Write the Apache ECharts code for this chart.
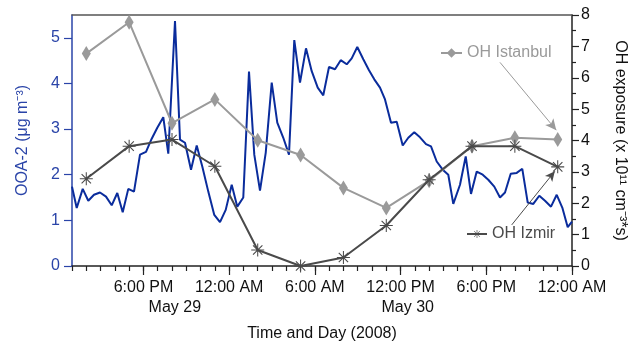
<!DOCTYPE html>
<html><head><meta charset="utf-8">
<script src="https://cdn.jsdelivr.net/npm/echarts@6/dist/echarts.min.js"></script>
<style>html,body{margin:0;padding:0;background:#fff}#c{width:628px;height:342px}</style>
</head><body><div id="c"></div>
<script>
// OOA-2 time series (hours since May 29 00:00, µg m-3)
const ooaHours = [13.0,13.33,13.75,14.14,14.54,14.96,15.38,15.78,16.17,16.55,16.94,17.34,17.76,18.18,18.58,18.97,19.39,19.74,20.21,20.56,20.91,21.33,21.73,22.12,22.54,22.96,23.36,23.76,24.18,24.57,24.99,25.39,25.76,26.16,26.56,26.98,27.37,27.79,28.19,28.56,28.96,29.38,29.78,30.20,30.59,30.99,31.41,31.81,32.23,32.58,32.97,33.39,33.79,34.16,34.56,34.91,35.33,35.73,36.15,36.54,36.96,37.36,37.78,38.13,38.53,38.95,39.34,39.69,40.16,40.56,40.93,41.33,41.75,42.14,42.56,42.96,43.31,43.71,44.13,44.52,44.90,45.29,45.71,46.11,46.53,46.93,47.32,47.70,48.0];
const ooaValues = [1.74,1.27,1.69,1.43,1.56,1.61,1.52,1.33,1.60,1.18,1.69,1.63,2.44,2.50,2.79,3.03,3.26,2.46,5.37,2.77,2.70,2.11,2.64,2.18,1.63,1.12,0.96,1.23,1.78,1.30,1.50,4.26,2.44,1.65,2.48,4.02,3.14,2.81,2.44,4.95,4.02,4.77,4.27,3.91,3.74,4.36,4.31,4.51,4.42,4.55,4.80,4.53,4.29,4.09,3.91,3.65,3.14,3.16,2.64,2.81,2.93,2.82,2.67,2.62,2.29,2.11,2.00,1.36,1.78,2.40,1.58,2.07,2.00,1.89,1.74,1.50,1.61,2.02,2.04,2.13,1.39,1.36,1.54,1.43,1.30,1.56,1.28,0.85,0.97];
// OH exposure (x 10^11 cm-3 s)
const ohHours = [14,17,20,23,26,29,32,35,38,41,44,47];
const istanbulValues = [6.77,7.77,4.55,5.31,4.01,3.54,2.49,1.85,2.72,3.82,4.09,4.03];
const izmirValues = [2.78,3.82,4.03,3.18,0.51,0.0,0.27,1.29,2.75,3.82,3.82,3.16];
// axis ticks & labels
const majorTickHours = [18,24,30,36,42,48];
const majorTickLabels = ['6:00 PM','12:00 AM','6:00 AM','12:00 PM','6:00 PM','12:00 AM'];
const dateLabelHours = [20.2,36.5];
const dateLabels = ['May 29','May 30'];
const leftTicks = [0,1,2,3,4,5];
// annotation arrows [from, to] in data coords
const istanbulArrow = [[42.96,6.49],[46.9,4.33]];
const izmirArrow = [[43.78,1.31],[46.8,3.02]];

const FONT = 'Liberation Sans, Arial, sans-serif';
const BLUE = '#0a2c9c';
const AXBLUE = '#2a44a8';
const GRAY = '#9a9a9a';
const DARK = '#4a4a4a';
const STAR = 'path://M0 46H100V54H0Z M46 0H54V100H46Z M11 17L17 11L89 83L83 89Z M83 11L89 17L17 89L11 83Z';

const chart = echarts.init(document.getElementById('c'), null, {renderer:'canvas'});
const xBase = {type:'value', min:13, max:48, gridIndex:0};
chart.setOption({
  animation:false,
  textStyle:{fontFamily:FONT},
  grid:{left:72, right:56, top:15, bottom:76, containLabel:false, outerBoundsMode:'none'},
  legend:[
    {data:[{name:'OH Istanbul', textStyle:{color:GRAY}}], left:440, top:45, padding:0, itemWidth:21, itemHeight:12,
     textStyle:{fontSize:16, fontFamily:FONT, color:GRAY}, selectedMode:false},
    {data:[{name:'OH Izmir', textStyle:{color:DARK}}], left:466, top:226, padding:0, itemWidth:20, itemHeight:10,
     textStyle:{fontSize:16, fontFamily:FONT, color:DARK}, selectedMode:false}
  ],
  xAxis:[
    Object.assign({}, xBase, {
      interval:1, position:'bottom',
      axisLine:{lineStyle:{color:'#222', width:1.5}},
      axisTick:{length:5, lineStyle:{color:'#222', width:1.2}},
      axisLabel:{customValues:majorTickHours, margin:14, fontSize:16, color:'#111', fontFamily:FONT,
        formatter:v=>majorTickLabels[majorTickHours.indexOf(Math.round(v))] || ''},
      splitLine:{show:false},
      name:'Time and Day (2008)', nameLocation:'middle', nameGap:60,
      nameTextStyle:{fontSize:16, color:'#111', fontFamily:FONT}
    }),
    Object.assign({}, xBase, {
      position:'bottom',
      axisLine:{show:false},
      axisTick:{customValues:majorTickHours, length:9, lineStyle:{color:'#222', width:1.2}},
      axisLabel:{customValues:dateLabelHours, margin:34, fontSize:16, color:'#111', fontFamily:FONT,
        formatter:v=>{let i=0,b=1e9;dateLabelHours.forEach((h,k)=>{if(Math.abs(h-v)<b){b=Math.abs(h-v);i=k;}});return dateLabels[i];}},
      splitLine:{show:false}
    }),
    Object.assign({}, xBase, {
      position:'top',
      axisLine:{lineStyle:{color:'#555', width:1.5}},
      axisTick:{show:false}, axisLabel:{show:false}, splitLine:{show:false}
    })
  ],
  yAxis:[
    {type:'value', min:0, max:5.5, interval:1, position:'left',
     axisLine:{show:true, lineStyle:{color:AXBLUE, width:1.5}},
     axisTick:{show:true, customValues:leftTicks, length:8, lineStyle:{color:AXBLUE, width:1.2}},
     axisLabel:{customValues:leftTicks, margin:12, fontSize:16, color:AXBLUE, fontFamily:FONT},
     splitLine:{show:false},
     name:'OOA-2 (μg m⁻³)', nameLocation:'middle', nameRotate:90, nameGap:41,
     nameTextStyle:{fontSize:16, color:AXBLUE, fontFamily:FONT}},
    {type:'value', min:0, max:8, interval:1, position:'right',
     axisLine:{show:true, lineStyle:{color:'#222', width:1.5}},
     axisTick:{show:true, length:7, lineStyle:{color:'#222', width:1.2}},
     minorTick:{show:true, splitNumber:2, length:4, lineStyle:{color:'#222', width:1.2}},
     axisLabel:{margin:9, fontSize:16, color:'#111', fontFamily:FONT},
     splitLine:{show:false},
     name:'OH exposure (x 10¹¹ cm⁻³*s)', nameLocation:'middle', nameRotate:-90, nameGap:40,
     nameTextStyle:{fontSize:16, color:'#111', fontFamily:FONT}}
  ],
  series:[
    {name:'OOA-2', type:'line', xAxisIndex:0, yAxisIndex:0, showSymbol:false, symbol:'none',
     lineStyle:{color:BLUE, width:2}, itemStyle:{color:BLUE},
     data:ooaHours.map((h,i)=>[h, ooaValues[i]]), z:2},
    {name:'OH Istanbul', type:'line', xAxisIndex:0, yAxisIndex:1, symbol:'diamond', symbolSize:[9,15],
     lineStyle:{color:GRAY, width:2}, itemStyle:{color:GRAY}, z:3,
     data:ohHours.map((h,i)=>[h, istanbulValues[i]]),
     markLine:{silent:true, symbol:['none','arrow'], symbolSize:[8,11], label:{show:false},
       lineStyle:{color:GRAY, width:1, type:'solid'},
       data:[[{coord:istanbulArrow[0]},{coord:istanbulArrow[1]}]]}},
    {name:'OH Izmir', type:'line', xAxisIndex:0, yAxisIndex:1, symbol:STAR, symbolSize:13,
     lineStyle:{color:DARK, width:2}, itemStyle:{color:DARK}, z:4,
     data:ohHours.map((h,i)=>[h, izmirValues[i]]),
     markLine:{silent:true, symbol:['none','arrow'], symbolSize:[7,10], label:{show:false},
       lineStyle:{color:DARK, width:1, type:'solid'},
       data:[[{coord:izmirArrow[0]},{coord:izmirArrow[1]}]]}}
  ]
});
</script></body></html>
